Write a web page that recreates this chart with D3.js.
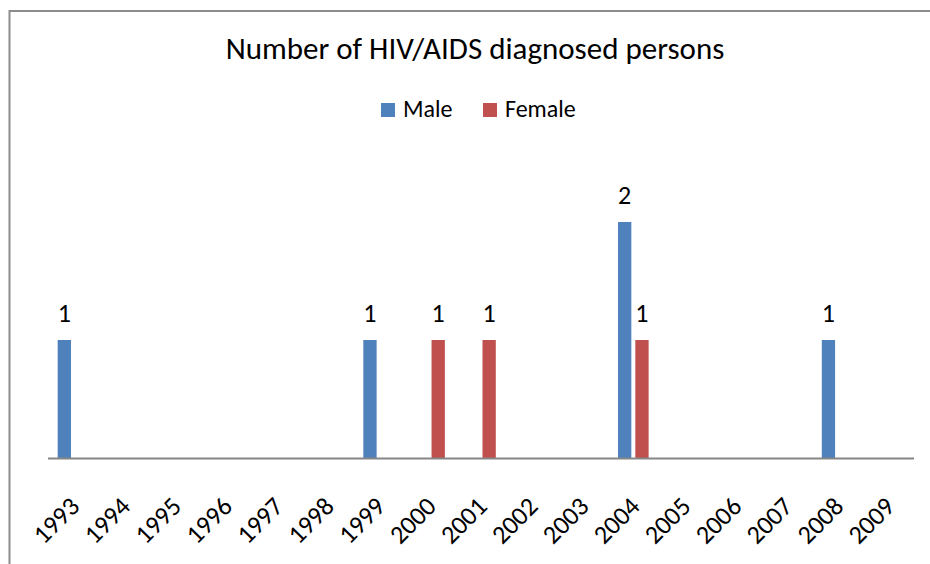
<!DOCTYPE html>
<html>
<head>
<meta charset="utf-8">
<script src="https://cdn.jsdelivr.net/npm/d3@7"></script>
<style>
  body { margin: 0; background: #fff; }
  svg { display: block; font-family: Carlito, Lato, sans-serif; }
</style>
</head>
<body>
<svg id="chart"></svg>
<script>
const years = ['1993','1994','1995','1996','1997','1998','1999','2000','2001',
               '2002','2003','2004','2005','2006','2007','2008','2009'];
const seriesNames = ['Male', 'Female'];
const maleValues   = [1,0,0,0,0,0,1,0,0,0,0,2,0,0,0,1,0];
const femaleValues = [0,0,0,0,0,0,0,1,1,0,0,1,0,0,0,0,0];
const colors = ['#4F81BD', '#C0504D'];
const chartTitle = 'Number of HIV/AIDS diagnosed persons';

const width = 930, height = 564;
const margin = {left: 47.5, right: 16.5, top: 163, baseline: 458};

const svg = d3.select('#chart')
    .attr('width', width)
    .attr('height', height);

// chart frame (cut off at right and bottom)
svg.append('rect')
    .attr('x', 9.5)
    .attr('y', 11)
    .attr('width', width + 20)
    .attr('height', height + 20)
    .attr('fill', '#fff')
    .attr('stroke', '#8c8c8c')
    .attr('stroke-width', 2);

const rows = years.map((y, i) => ({year: y, Male: maleValues[i], Female: femaleValues[i]}));

const x0 = d3.scaleBand()
    .domain(years)
    .range([margin.left, width - margin.right])
    .padding(0);

const x1 = d3.scaleBand()
    .domain(seriesNames)
    .range([0, x0.bandwidth()])
    .paddingInner(0.231)
    .paddingOuter(0.588);

const y = d3.scaleLinear()
    .domain([0, 2.5])
    .range([margin.baseline, margin.top]);

// bars
const groups = svg.append('g')
    .selectAll('g')
    .data(rows)
    .join('g')
    .attr('transform', d => `translate(${x0(d.year)},0)`);

const cells = d => seriesNames.map((k, i) => ({key: k, value: d[k], color: colors[i]}));

groups.selectAll('rect')
    .data(cells)
    .join('rect')
    .attr('x', d => x1(d.key))
    .attr('width', x1.bandwidth())
    .attr('y', d => y(d.value))
    .attr('height', d => y(0) - y(d.value))
    .attr('fill', d => d.color);

groups.selectAll('text')
    .data(d => cells(d).filter(c => c.value > 0))
    .join('text')
    .attr('x', d => x1(d.key) + x1.bandwidth() / 2)
    .attr('y', d => y(d.value) - 18.5)
    .attr('text-anchor', 'middle')
    .style('font-size', '26px')
    .attr('fill', '#000')
    .text(d => d.value);

// x axis
const xaxis = d3.axisBottom(x0).tickSize(0).tickSizeOuter(0);
const xg = svg.append('g')
    .attr('transform', `translate(0,${margin.baseline})`)
    .call(xaxis);
xg.attr('font-family', null).attr('font-size', null);
xg.select('.domain')
    .attr('stroke', '#868686')
    .attr('stroke-width', 2);
xg.selectAll('.tick text')
    .style('font-size', '26px')
    .attr('fill', '#000')
    .attr('text-anchor', 'end')
    .attr('dy', 0)
    .attr('y', 0)
    .attr('transform', 'translate(8,50) rotate(-45)');

// title
svg.append('text')
    .attr('x', 475)
    .attr('y', 59)
    .attr('text-anchor', 'middle')
    .style('font-size', '31px')
    .attr('fill', '#000')
    .text(chartTitle);

// legend
const legend = svg.append('g')
    .attr('transform', 'translate(381,103)');
const legendX = [0, 102];
const li = legend.selectAll('g')
    .data(seriesNames)
    .join('g')
    .attr('transform', (d, i) => `translate(${legendX[i]},0)`);
li.append('rect')
    .attr('width', 14)
    .attr('height', 14)
    .attr('fill', (d, i) => colors[i]);
li.append('text')
    .attr('x', 22)
    .attr('y', 14)
    .style('font-size', '24px')
    .attr('fill', '#000')
    .text(d => d);
</script>
</body>
</html>
